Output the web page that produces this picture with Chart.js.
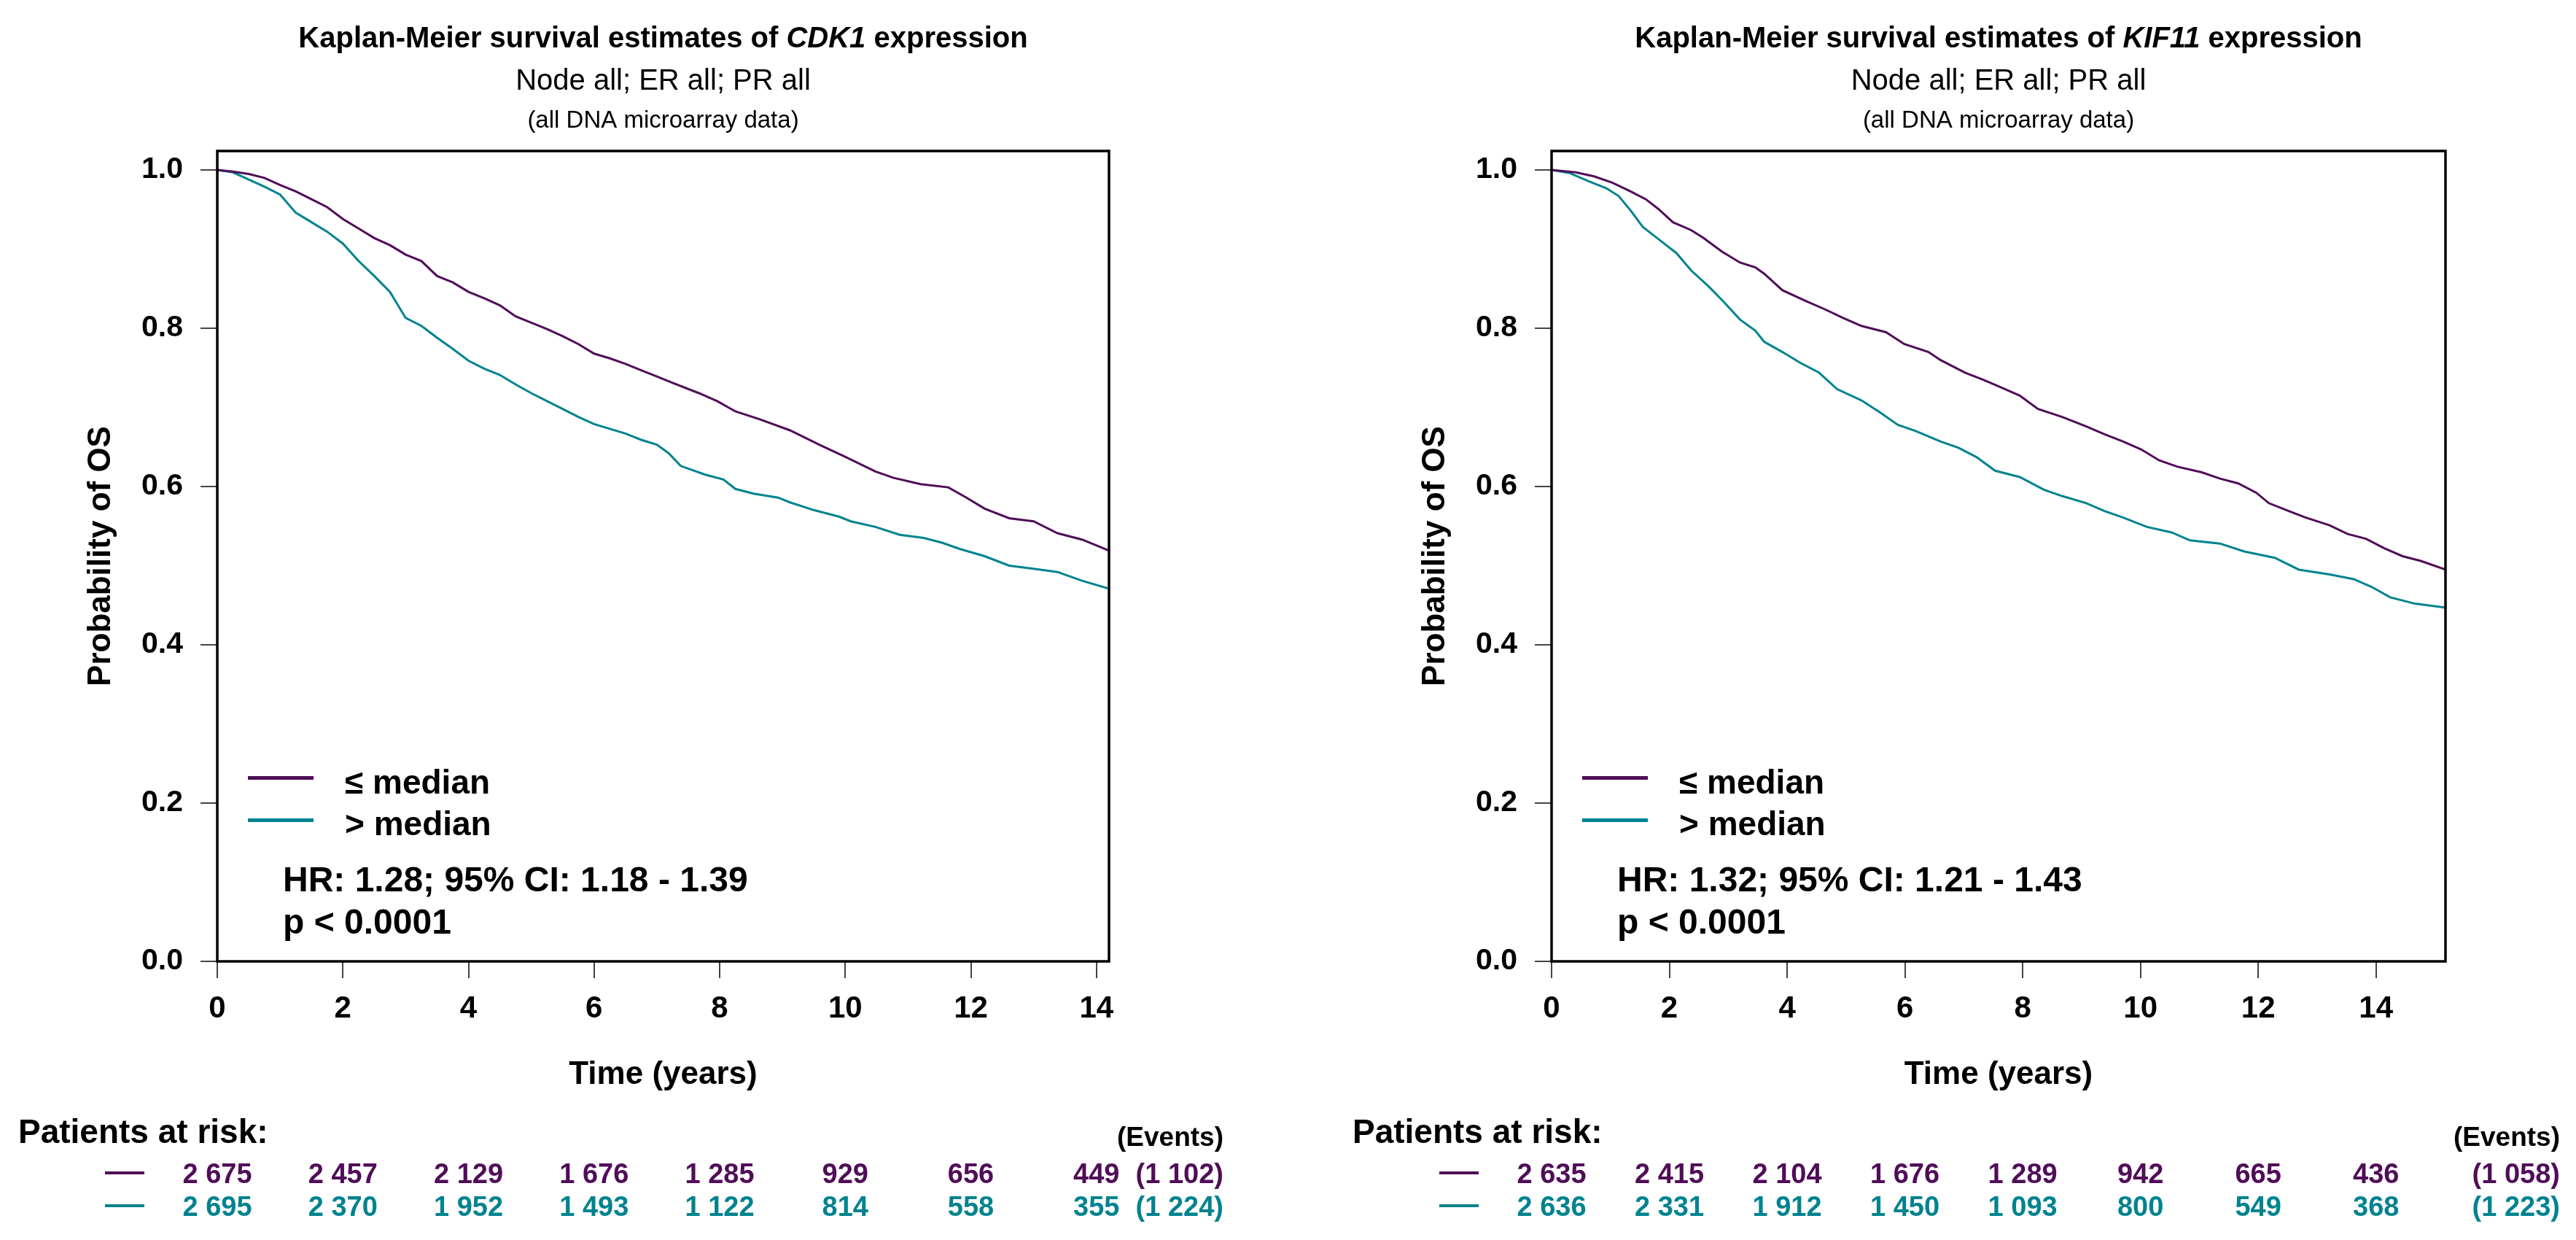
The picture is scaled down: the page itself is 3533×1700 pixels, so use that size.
<!DOCTYPE html>
<html>
<head>
<meta charset="utf-8">
<title>Kaplan-Meier CDK1 / KIF11</title>
<script src="https://cdn.jsdelivr.net/npm/chart.js@4.4.1/dist/chart.umd.min.js"></script>
<style>
  body { margin: 0; background: #fff; }
  .panel { position: absolute; top: 0; height: 1700px; }
</style>
</head>
<body>
<div class="panel" style="left:0;width:1766px"><canvas id="km-cdk1"></canvas></div>
<div class="panel" style="left:1766px;width:1767px"><canvas id="km-kif11"></canvas></div>
<script>
// --- values ---
const riskTimes = [0, 2, 4, 6, 8, 10, 12, 14];
const yTicks = [0, 0.2, 0.4, 0.6, 0.8, 1.0];

// CDK1, <= median
const cdk1LowTime = [0, 0.25, 0.5, 0.75, 1, 1.25, 1.5, 1.75, 2, 2.25, 2.5, 2.75, 3, 3.25, 3.5, 3.75, 4, 4.25, 4.5, 4.75, 5, 5.25, 5.5, 5.75, 6, 6.25, 6.5, 6.75, 7, 7.25, 7.67, 7.96, 8.25, 8.64, 9.12, 9.61, 9.99, 10.48, 10.77, 11.2, 11.64, 11.93, 12.22, 12.61, 13.0, 13.38, 13.77, 14.2];
const cdk1LowSurv = [1.0, 0.998, 0.995, 0.990, 0.981, 0.973, 0.963, 0.953, 0.938, 0.926, 0.914, 0.905, 0.893, 0.885, 0.866, 0.858, 0.846, 0.838, 0.829, 0.815, 0.807, 0.799, 0.790, 0.780, 0.768, 0.762, 0.755, 0.747, 0.739, 0.731, 0.718, 0.708, 0.695, 0.685, 0.671, 0.652, 0.638, 0.619, 0.611, 0.603, 0.599, 0.586, 0.572, 0.560, 0.556, 0.541, 0.533, 0.519];
// CDK1, > median
const cdk1HighTime = [0, 0.25, 0.5, 0.75, 1, 1.25, 1.5, 1.75, 2, 2.25, 2.5, 2.75, 3, 3.25, 3.5, 3.75, 4, 4.25, 4.5, 4.75, 5, 5.25, 5.5, 5.75, 6, 6.25, 6.5, 6.75, 7, 7.19, 7.38, 7.77, 8.06, 8.25, 8.54, 8.93, 9.12, 9.51, 9.9, 10.09, 10.48, 10.87, 11.25, 11.54, 11.83, 12.22, 12.61, 13.0, 13.38, 13.77, 14.2];
const cdk1HighSurv = [1.0, 0.997, 0.988, 0.979, 0.969, 0.946, 0.934, 0.922, 0.907, 0.885, 0.866, 0.846, 0.813, 0.803, 0.788, 0.774, 0.759, 0.749, 0.741, 0.729, 0.718, 0.708, 0.698, 0.688, 0.679, 0.673, 0.667, 0.659, 0.653, 0.642, 0.626, 0.615, 0.609, 0.597, 0.591, 0.586, 0.580, 0.570, 0.562, 0.556, 0.549, 0.539, 0.535, 0.529, 0.521, 0.512, 0.500, 0.496, 0.492, 0.481, 0.471];

// KIF11, <= median
const kif11LowTime = [0, 0.41, 0.72, 1.03, 1.34, 1.6, 1.81, 2.06, 2.37, 2.58, 2.89, 3.2, 3.46, 3.61, 3.92, 4.33, 4.64, 4.95, 5.26, 5.68, 5.99, 6.4, 6.6, 7.02, 7.33, 7.64, 7.95, 8.26, 8.67, 9.08, 9.39, 9.7, 10.01, 10.32, 10.63, 11.04, 11.35, 11.66, 11.97, 12.18, 12.59, 12.8, 13.21, 13.52, 13.83, 14.14, 14.45, 14.76, 15.18];
const kif11LowSurv = [1.0, 0.997, 0.992, 0.984, 0.973, 0.963, 0.951, 0.934, 0.924, 0.914, 0.897, 0.883, 0.877, 0.869, 0.848, 0.834, 0.824, 0.813, 0.803, 0.795, 0.780, 0.770, 0.760, 0.744, 0.735, 0.725, 0.715, 0.698, 0.688, 0.676, 0.666, 0.657, 0.647, 0.633, 0.625, 0.618, 0.610, 0.604, 0.592, 0.579, 0.567, 0.561, 0.551, 0.540, 0.534, 0.522, 0.512, 0.506, 0.495];
// KIF11, > median
const kif11HighTime = [0, 0.31, 0.62, 0.93, 1.14, 1.34, 1.55, 1.86, 2.12, 2.37, 2.68, 2.94, 3.2, 3.46, 3.61, 3.92, 4.23, 4.54, 4.85, 5.26, 5.57, 5.88, 6.19, 6.6, 6.91, 7.22, 7.53, 7.95, 8.36, 8.67, 9.08, 9.39, 9.7, 10.11, 10.53, 10.84, 11.35, 11.76, 12.28, 12.69, 13.21, 13.62, 13.93, 14.24, 14.66, 15.18];
const kif11HighSurv = [1.0, 0.996, 0.986, 0.977, 0.967, 0.949, 0.928, 0.910, 0.895, 0.873, 0.852, 0.832, 0.811, 0.797, 0.783, 0.770, 0.756, 0.744, 0.723, 0.709, 0.694, 0.678, 0.670, 0.657, 0.649, 0.637, 0.620, 0.612, 0.596, 0.588, 0.579, 0.569, 0.561, 0.549, 0.542, 0.532, 0.528, 0.518, 0.510, 0.495, 0.489, 0.483, 0.473, 0.460, 0.452, 0.447];

// patients at risk + events
const cdk1RiskLow = [2675, 2457, 2129, 1676, 1285, 929, 656, 449];
const cdk1RiskHigh = [2695, 2370, 1952, 1493, 1122, 814, 558, 355];
const cdk1Events = [1102, 1224];
const kif11RiskLow = [2635, 2415, 2104, 1676, 1289, 942, 665, 436];
const kif11RiskHigh = [2636, 2331, 1912, 1450, 1093, 800, 549, 368];
const kif11Events = [1058, 1223];

const COL_LOW = '#500d58';
const COL_HIGH = '#00838f';
const FONT = '"Liberation Sans", Arial, Helvetica, sans-serif';

Chart.defaults.font.family = FONT;
Chart.defaults.color = '#000';

// 2675 -> "2 675"
function fmt(n) {
  return String(n).replace(/\B(?=(\d{3})+(?!\d))/g, ' ');
}

function pairs(xs, ys) {
  return xs.map((x, i) => ({x: x, y: ys[i]}));
}

// --- box, titles, legend, HR text, risk table ---
const kmDecor = {
  id: 'kmDecor',
  afterDraw(chart, args, opts) {
    const ctx = chart.ctx;
    const ca = chart.chartArea;
    const xs = chart.scales.x;
    const cx = (ca.left + ca.right) / 2;
    ctx.save();

    // frame
    ctx.strokeStyle = '#000';
    ctx.lineWidth = 3.5;
    ctx.strokeRect(ca.left, ca.top, ca.right - ca.left, ca.bottom - ca.top);

    // title with italic gene name
    const parts = [
      ['bold 40px ' + FONT, 'Kaplan-Meier survival estimates of '],
      ['italic bold 40px ' + FONT, opts.gene],
      ['bold 40px ' + FONT, ' expression']
    ];
    let total = 0;
    parts.forEach(p => { ctx.font = p[0]; total += ctx.measureText(p[1]).width; });
    let tx = cx - total / 2;
    ctx.fillStyle = '#000';
    ctx.textAlign = 'left';
    ctx.textBaseline = 'alphabetic';
    parts.forEach(p => {
      ctx.font = p[0];
      ctx.fillText(p[1], tx, 65);
      tx += ctx.measureText(p[1]).width;
    });
    ctx.textAlign = 'center';
    ctx.font = '40px ' + FONT;
    ctx.fillText('Node all; ER all; PR all', cx, 123);
    ctx.font = '33px ' + FONT;
    ctx.fillText('(all DNA microarray data)', cx, 175);

    // legend
    const legend = [[COL_LOW, '\u2264 median', 1066.5, 1088], [COL_HIGH, '> median', 1124.5, 1145]];
    legend.forEach(l => {
      ctx.strokeStyle = l[0];
      ctx.lineWidth = 5;
      ctx.beginPath();
      ctx.moveTo(ca.left + 42, l[2]);
      ctx.lineTo(ca.left + 132, l[2]);
      ctx.stroke();
      ctx.fillStyle = '#000';
      ctx.font = 'bold 46px ' + FONT;
      ctx.textAlign = 'left';
      ctx.fillText(l[1], ca.left + 175, l[3]);
    });

    // hazard ratio
    ctx.font = 'bold 48px ' + FONT;
    ctx.fillText(opts.hr, ca.left + 90, 1222);
    ctx.fillText('p < 0.0001', ca.left + 90, 1280);

    // patients at risk
    ctx.font = 'bold 46px ' + FONT;
    ctx.fillText('Patients at risk:', ca.left - 273, 1567);
    ctx.font = 'bold 37px ' + FONT;
    ctx.textAlign = 'right';
    ctx.fillText('(Events)', ca.right + 157, 1571);

    const rows = [[COL_LOW, opts.riskLow, opts.events[0], 1622, 1608],
                  [COL_HIGH, opts.riskHigh, opts.events[1], 1667, 1653]];
    rows.forEach(r => {
      ctx.strokeStyle = r[0];
      ctx.lineWidth = 4;
      ctx.beginPath();
      ctx.moveTo(ca.left - 154, r[4]);
      ctx.lineTo(ca.left - 100, r[4]);
      ctx.stroke();
      ctx.fillStyle = r[0];
      ctx.font = 'bold 38px ' + FONT;
      ctx.textAlign = 'center';
      r[1].forEach((n, i) => {
        ctx.fillText(fmt(n), xs.getPixelForValue(riskTimes[i]), r[3]);
      });
      ctx.textAlign = 'right';
      ctx.fillText('(' + fmt(r[2]) + ')', ca.right + 157, r[3]);
    });
    ctx.restore();
  }
};

function makeKM(canvasId, cfg) {
  const W = cfg.width;
  return new Chart(document.getElementById(canvasId), {
    type: 'line',
    data: {
      datasets: [
        { label: '\u2264 median', data: pairs(cfg.lowT, cfg.lowS), borderColor: COL_LOW, borderWidth: 3, pointRadius: 0, tension: 0 },
        { label: '> median', data: pairs(cfg.highT, cfg.highS), borderColor: COL_HIGH, borderWidth: 3, pointRadius: 0, tension: 0 }
      ]
    },
    options: {
      responsive: true,
      maintainAspectRatio: false,
      devicePixelRatio: 1,
      animation: false,
      layout: { padding: { left: 0, top: 207, right: W - cfg.boxRight, bottom: 0 } },
      plugins: {
        legend: { display: false },
        tooltip: { enabled: false },
        kmDecor: { gene: cfg.gene, hr: cfg.hr, riskLow: cfg.riskLow, riskHigh: cfg.riskHigh, events: cfg.events }
      },
      scales: {
        x: {
          type: 'linear',
          min: 0,
          max: cfg.xMax,
          afterFit: s => { s.height = 1700 - 1318; },
          afterBuildTicks: s => { s.ticks = riskTimes.map(v => ({value: v})); },
          border: { display: false },
          grid: { drawOnChartArea: false, drawTicks: true, tickLength: 23, color: '#444', lineWidth: 2 },
          ticks: { font: { size: 42, weight: 'bold' }, color: '#000', padding: 17, maxRotation: 0 },
          title: { display: true, text: 'Time (years)', font: { size: 44, weight: 'bold' }, color: '#000', padding: { top: 0, bottom: 200 } }
        },
        y: {
          min: 0,
          max: 1.024,
          afterFit: s => { s.width = cfg.boxLeft; },
          afterBuildTicks: s => { s.ticks = yTicks.map(v => ({value: v})); },
          border: { display: false },
          grid: { drawOnChartArea: false, drawTicks: true, tickLength: 23, color: '#444', lineWidth: 2 },
          ticks: { font: { size: 41, weight: 'bold' }, color: '#000', padding: 24, callback: v => v.toFixed(1) },
          title: { display: true, text: 'Probability of OS', font: { size: 44, weight: 'bold' }, color: '#000', padding: { top: cfg.boxLeft - 159 - 26.4, bottom: 0 } }
        }
      }
    },
    plugins: [kmDecor]
  });
}

makeKM('km-cdk1', {
  width: 1766, boxLeft: 298, boxRight: 1521, xMax: 14.2, gene: 'CDK1',
  hr: 'HR: 1.28; 95% CI: 1.18 - 1.39',
  lowT: cdk1LowTime, lowS: cdk1LowSurv, highT: cdk1HighTime, highS: cdk1HighSurv,
  riskLow: cdk1RiskLow, riskHigh: cdk1RiskHigh, events: cdk1Events
});

makeKM('km-kif11', {
  width: 1767, boxLeft: 362, boxRight: 1588, xMax: 15.18, gene: 'KIF11',
  hr: 'HR: 1.32; 95% CI: 1.21 - 1.43',
  lowT: kif11LowTime, lowS: kif11LowSurv, highT: kif11HighTime, highS: kif11HighSurv,
  riskLow: kif11RiskLow, riskHigh: kif11RiskHigh, events: kif11Events
});
</script>
</body>
</html>
